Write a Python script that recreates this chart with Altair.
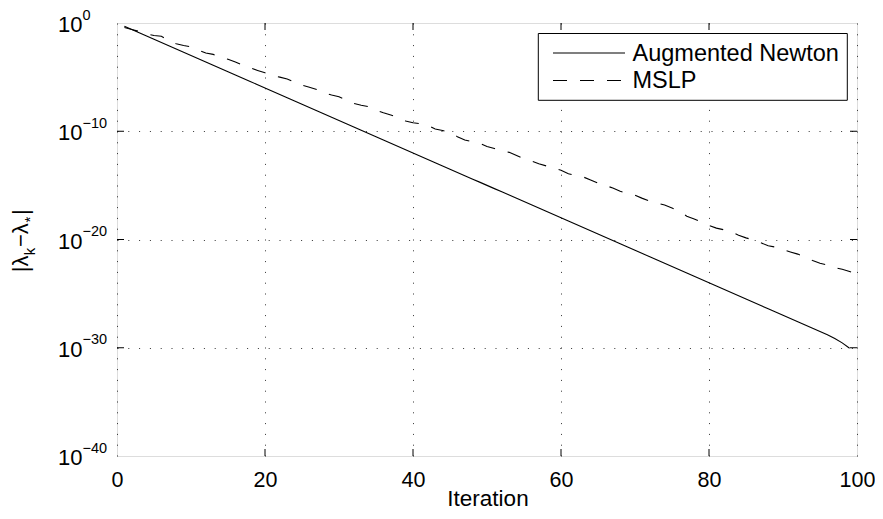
import altair as alt
import pandas as pd

# ---------------- data ----------------
newton_iter = list(range(1, 100))
newton_exp = [
    -0.3, -0.6, -0.9, -1.2, -1.5, -1.8, -2.1, -2.4, -2.7, -3.0,
    -3.3, -3.6, -3.9, -4.2, -4.5, -4.8, -5.1, -5.4, -5.7, -6.0,
    -6.3, -6.6, -6.9, -7.2, -7.5, -7.8, -8.1, -8.4, -8.7, -9.0,
    -9.3, -9.6, -9.9, -10.2, -10.5, -10.8, -11.1, -11.4, -11.7, -12.0,
    -12.3, -12.6, -12.9, -13.2, -13.5, -13.8, -14.1, -14.4, -14.7, -15.0,
    -15.3, -15.6, -15.9, -16.2, -16.5, -16.8, -17.1, -17.4, -17.7, -18.0,
    -18.3, -18.6, -18.9, -19.2, -19.5, -19.8, -20.1, -20.4, -20.7, -21.0,
    -21.3, -21.6, -21.9, -22.2, -22.5, -22.8, -23.1, -23.4, -23.7, -24.0,
    -24.3, -24.6, -24.9, -25.2, -25.5, -25.8, -26.1, -26.4, -26.7, -27.0,
    -27.3, -27.6, -27.9, -28.2, -28.5, -28.8, -29.15, -29.55, -30.05,
]

mslp_iter = list(range(1, 101))
mslp_exp = [
    -0.42, -0.6, -0.78, -1.0, -1.15, -1.22, -1.65, -1.92, -2.08, -2.2,
    -2.5, -2.77, -2.9, -3.15, -3.35, -3.6, -3.9, -4.15, -4.38, -4.6,
    -4.85, -5.0, -5.17, -5.45, -5.75, -5.93, -6.15, -6.45, -6.65, -6.82,
    -7.1, -7.42, -7.6, -7.72, -8.05, -8.3, -8.5, -8.75, -9.05, -9.22,
    -9.3, -9.45, -9.8, -9.93, -10.1, -10.5, -10.8, -10.98, -11.1, -11.4,
    -11.6, -11.82, -11.95, -12.25, -12.55, -12.75, -13.0, -13.2, -13.4, -13.6,
    -13.92, -14.1, -14.22, -14.5, -14.8, -15.0, -15.25, -15.55, -15.75, -15.9,
    -16.2, -16.45, -16.65, -16.82, -17.1, -17.4, -17.85, -18.1, -18.4, -18.7,
    -18.95, -19.1, -19.3, -19.6, -19.85, -20.05, -20.3, -20.58, -20.7, -20.95,
    -21.15, -21.35, -21.65, -21.95, -22.2, -22.35, -22.6, -22.75, -22.95, -23.2,
]

series_names = ["Augmented Newton", "MSLP"]
x_title = "Iteration"
x_tick_values = [0, 20, 40, 60, 80, 100]
x_inner_ticks = [20, 40, 60, 80]
y_tick_exps = [0, -10, -20, -30, -40]
y_inner_exps = [-10, -20, -30]

# ---------------- layout constants ----------------
W, H = 740, 433
FONT = "Liberation Sans"
DASH = [14, 13]
TICK = 7

newton_df = pd.DataFrame({"iter": newton_iter, "val": [10.0 ** e for e in newton_exp]})
mslp_df = pd.DataFrame({"iter": mslp_iter, "val": [10.0 ** e for e in mslp_exp]})

xscale = alt.Scale(domain=[0, 100], nice=False, zero=False)
yscale = alt.Scale(type="log", domain=[1e-40, 1], nice=False)

x_axis = alt.Axis(
    values=x_tick_values, title=None, grid=True, gridDash=[1, 9.8],
    gridColor="black", gridOpacity=0.8, gridWidth=1, ticks=False, tickSize=0,
    domain=False, labelFont=FONT, labelFontSize=21.5, labelColor="black",
    labelPadding=13, labelFlush=False,
)
y_axis = alt.Axis(
    values=[10.0 ** e for e in y_inner_exps], title=None, grid=True,
    gridDash=[1, 9.8], gridColor="black", gridOpacity=0.8, gridWidth=1,
    ticks=False, tickSize=0, domain=False, labels=False,
)


def xf(field):
    return alt.X(field, scale=xscale, axis=x_axis)


def yf(field):
    return alt.Y(field, scale=yscale, axis=y_axis)


newton_line = alt.Chart(newton_df).mark_line(color="black", strokeWidth=1.1).encode(
    x=xf("iter:Q"), y=yf("val:Q"))
mslp_line = alt.Chart(mslp_df).mark_line(color="black", strokeWidth=1.1, strokeDash=DASH).encode(
    x=xf("iter:Q"), y=yf("val:Q"))

# ---------------- inward tick marks ----------------
xt_df = pd.DataFrame({"iter": x_inner_ticks})
yt_df = pd.DataFrame({"val": [10.0 ** e for e in y_inner_exps]})
top_ticks = alt.Chart(xt_df).mark_rule(color="black").encode(
    x=xf("iter:Q"), y=alt.value(0), y2=alt.value(TICK))
bot_ticks = alt.Chart(xt_df).mark_rule(color="black").encode(
    x=xf("iter:Q"), y=alt.value(H - TICK), y2=alt.value(H))
left_ticks = alt.Chart(yt_df).mark_rule(color="black").encode(
    y=yf("val:Q"), x=alt.value(0), x2=alt.value(TICK))
right_ticks = alt.Chart(yt_df).mark_rule(color="black").encode(
    y=yf("val:Q"), x=alt.value(W - TICK), x2=alt.value(W))

# ---------------- y tick labels 10^n ----------------
ylab_df = pd.DataFrame({
    "val": [10.0 ** e for e in y_tick_exps],
    "base": ["10"] * len(y_tick_exps),
    "exp": [("\u2212" + str(abs(e))) if e < 0 else "0" for e in y_tick_exps],
})
ylab_base = alt.Chart(ylab_df).mark_text(
    font=FONT, fontSize=22, align="right", baseline="alphabetic", dy=9, color="black"
).encode(y=yf("val:Q"), x=alt.value(-34.5), text="base:N")
ylab_exp = alt.Chart(ylab_df).mark_text(
    font=FONT, fontSize=14.5, align="left", baseline="alphabetic", dy=-3.4, color="black"
).encode(y=yf("val:Q"), x=alt.value(-34.5), text="exp:N")

# ---------------- x axis title ----------------
xtitle = alt.Chart(pd.DataFrame({"t": [x_title]})).mark_text(
    font=FONT, fontSize=22.5, align="center", baseline="alphabetic", color="black"
).encode(x=alt.value(W / 2 + 1), y=alt.value(H + 50), text="t:N")

# ---------------- y axis title |λ_k − λ_*| ----------------
title_parts = pd.DataFrame({
    "t": ["|\u03bb", "k", "\u2212\u03bb", "*", "|"],
    "size": [22, 15, 22, 15, 22],
    "px": [-89, -82, -89, -82, -89],
    "py": [249.3, 232.3, 224.0, 199.5, 192.0],
})
ytitle_layers = []
for _, r in title_parts.iterrows():
    ytitle_layers.append(
        alt.Chart(pd.DataFrame({"t": [r["t"]]})).mark_text(
            font=FONT, fontSize=int(r["size"]), angle=270, align="left",
            baseline="alphabetic", color="black"
        ).encode(x=alt.value(float(r["px"])), y=alt.value(float(r["py"])), text="t:N")
    )

# ---------------- legend ----------------
one = pd.DataFrame({"a": [0]})
leg_box = alt.Chart(one).mark_rect(fill="white", stroke="black", strokeWidth=1).encode(
    x=alt.value(421.3), x2=alt.value(730.3), y=alt.value(10.5), y2=alt.value(77.3))
leg_solid = alt.Chart(one).mark_rule(color="black", strokeWidth=1.1).encode(
    x=alt.value(436), x2=alt.value(508), y=alt.value(30), y2=alt.value(30))
leg_dash = alt.Chart(one).mark_rule(color="black", strokeWidth=1.1, strokeDash=DASH).encode(
    x=alt.value(436), x2=alt.value(508), y=alt.value(57.5), y2=alt.value(57.5))
leg_text1 = alt.Chart(pd.DataFrame({"name": [series_names[0]]})).mark_text(
    font=FONT, fontSize=23.5, align="left", baseline="alphabetic", color="black"
).encode(x=alt.value(515.5), y=alt.value(37.8), text="name:N")
leg_text2 = alt.Chart(pd.DataFrame({"name": [series_names[1]]})).mark_text(
    font=FONT, fontSize=23.5, align="left", baseline="alphabetic", color="black"
).encode(x=alt.value(515.5), y=alt.value(65), text="name:N")

chart = alt.layer(
    newton_line, mslp_line, top_ticks, bot_ticks, left_ticks, right_ticks,
    ylab_base, ylab_exp, xtitle, *ytitle_layers,
    leg_box, leg_solid, leg_dash, leg_text1, leg_text2,
).properties(
    width=W, height=H,
    autosize=alt.AutoSizeParams(type="none"),
    padding={"left": 109, "top": 15, "right": 18, "bottom": 55},
).configure_view(stroke="black", strokeWidth=1).configure(background="white")

chart.save("out.html", embed_options={"renderer": "svg", "actions": False})
